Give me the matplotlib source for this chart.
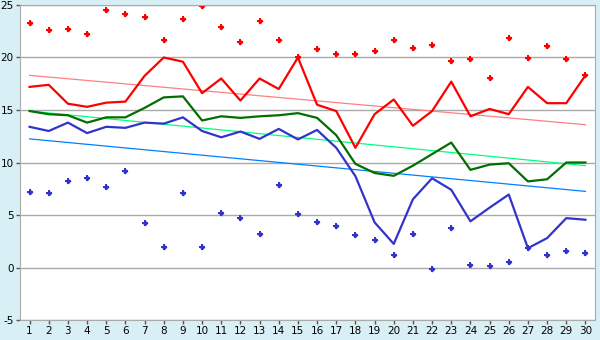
import numpy as np
from matplotlib import pyplot as plt

plt.rcParams['axes.unicode_minus'] = False

days = np.arange(1, 31)
red_line = [17.2, 17.4, 15.6, 15.3, 15.7, 15.8, 18.25, 20.0, 19.6, 16.6, 18.0, 15.9, 18.0, 17.0, 20.0,
            15.5, 14.9, 11.4, 14.6, 16.0, 13.5, 14.9, 17.7, 14.4, 15.1, 14.6, 17.2, 15.65, 15.65, 18.3]
red_pts = [23.3, 22.6, 22.7, 22.2, 24.5, 24.1, 23.9, 21.7, 23.7, 24.9, 22.9, 21.5, 23.5, 21.7, 20.0,
           20.8, 20.35, 20.35, 20.6, 21.7, 20.9, 21.2, 19.7, 19.9, 18.05, 21.9, 19.95, 21.1, 19.9, 18.35]
green_line = [14.9, 14.6, 14.5, 13.8, 14.3, 14.3, 15.2, 16.2, 16.3, 14.0, 14.4, 14.25, 14.4, 14.5, 14.7,
              14.25, 12.6, 9.87, 9.0, 8.73, 9.7, 10.8, 11.9, 9.3, 9.8, 9.93, 8.2, 8.4, 10.0, 10.0]
blue_line = [13.4, 13.0, 13.8, 12.8, 13.4, 13.3, 13.8, 13.7, 14.3, 13.0, 12.4, 12.95, 12.25, 13.2, 12.2,
             13.1, 11.4, 8.7, 4.3, 2.25, 6.5, 8.5, 7.4, 4.4, 5.7, 6.95, 1.84, 2.8, 4.7, 4.55]
blue_pts = [7.2, 7.1, 8.25, 8.5, 7.7, 9.2, 4.2, 1.97, 7.1, 1.97, 5.2, 4.7, 3.2, 7.9, 5.1,
            4.35, 3.97, 3.1, 2.6, 1.2, 3.2, -0.1, 3.8, 0.26, 0.16, 0.54, 1.84, 1.2, 1.6, 1.4]
# trend lines, start and end values (day 1 / day 30)
trend_x = [1, 30]
red_trend = [18.3, 13.6]
green_trend = [14.9, 9.7]
blue_trend = [12.25, 7.25]

bg = '#d9eff6'
fig = plt.figure(figsize=(6, 3.4), dpi=100, facecolor=bg)
ax = fig.add_axes([0.0333, 0.0588, 0.9584, 0.9265])
ax.set_facecolor('white')

ax.plot(trend_x, red_trend, color='#ff8080', lw=0.9)
ax.plot(trend_x, green_trend, color='#00ff80', lw=0.9)
ax.plot(trend_x, blue_trend, color='#0080ff', lw=0.9)

ax.plot(days, red_line, color='#ff0000', lw=1.6)
ax.plot(days, green_line, color='#006f00', lw=1.6)
ax.plot(days, blue_line, color='#3333cc', lw=1.6)

# small star-like point markers
for pts, c in [(red_pts, '#ff0000'), (blue_pts, '#3333cc')]:
    ax.plot(days, pts, ls='none', marker='D', ms=3, color=c, mew=0)
    ax.plot(days, pts, ls='none', marker='P', ms=4, color=c, mew=0)

ax.set_xlim(0.5, 30.5)
ax.set_ylim(-5, 25)
ax.set_xticks(days)
ax.set_yticks(range(-5, 26, 5))
ax.yaxis.grid(True, color='#aaaaaa', lw=1)
ax.set_axisbelow(True)
for s in ax.spines.values():
    s.set_color('#aaaaaa')
ax.tick_params(colors='#555555', labelcolor='black', labelsize=7.5, length=3, width=1, pad=1.5)

fig.savefig('out.png', dpi=100, facecolor=bg)
